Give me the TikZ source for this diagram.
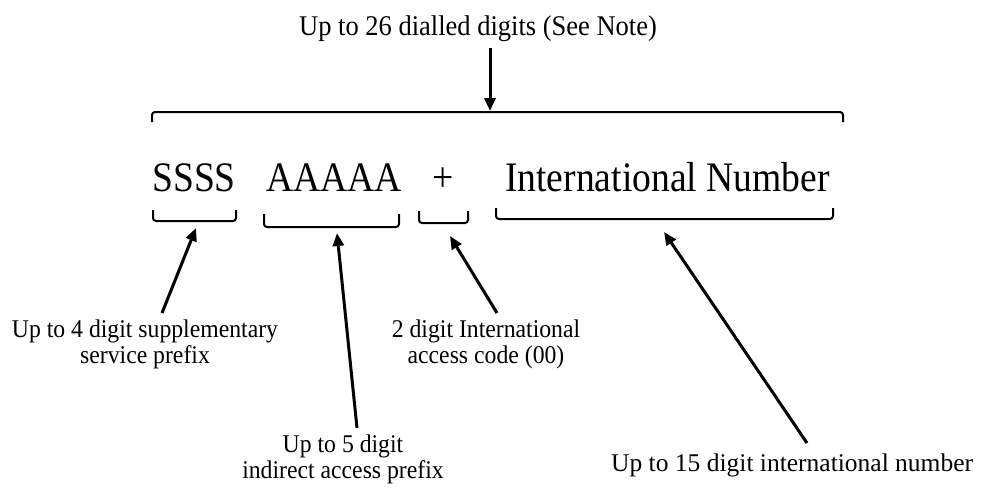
\documentclass[tikz,border=0pt]{standalone}
\usepackage{fontspec}
\setmainfont{Liberation Serif}
\newfontfamily\bigfnt[FakeStretch=0.895]{Liberation Serif}
\newfontfamily\labfnt[FakeStretch=0.93]{Liberation Serif}
\usetikzlibrary{arrows.meta}
\tikzset{
  bigtxt/.style={inner sep=0pt, font=\bigfnt\fontsize{42}{48}\selectfont},
  labtxt/.style={inner sep=0pt, anchor=base, font=\labfnt\fontsize{25.5}{30}\selectfont},
  toptxt/.style={inner sep=0pt, anchor=base, font=\labfnt\fontsize{28.5}{33}\selectfont},
  bracketline/.style={line width=2pt, rounded corners=3pt},
  pointer/.style={line width=3pt, -{Triangle[length=13pt,width=11pt]}, shorten >=0pt}
}
\begin{document}
\begin{tikzpicture}[x=1pt,y=-1pt]
\useasboundingbox (0,0) rectangle (991,488);

% top text and arrow
\node[toptxt] (top) at (478,35) {Up to 26 dialled digits (See Note)};
\coordinate (topT) at (490,48);
\coordinate (topH) at (490,111);
\draw[pointer] (topT) -- (topH);

% top bracket
\draw[bracketline] (152,122) -- (152,112) -- (843,112) -- (843,122);

% main text
\node[bigtxt, anchor=base west] (S) at (152,191) {SSSS};
\node[bigtxt, anchor=base west] (A) at (266,191) {AAAAA};
\node[bigtxt, anchor=base] (P) at (443,191) {+};
\node[bigtxt, anchor=base west] (I) at (505,191) {International Number};

% lower brackets
\draw[bracketline] (153,210) -- (153,221) -- (236,221) -- (236,210);
\draw[bracketline] (264,214) -- (264,227) -- (399,227) -- (399,214);
\draw[bracketline] (419,211) -- (419,223) -- (468,223) -- (468,211);
\draw[bracketline] (496,208) -- (496,219) -- (833,219) -- (833,208);

% labels
\node[labtxt] (l1a) at (145,337) {Up to 4 digit supplementary};
\node[labtxt] (l1b) at (145,363) {service prefix};
\node[labtxt] (l2a) at (486,337) {2 digit International};
\node[labtxt] (l2b) at (486,363) {access code (00)};
\node[labtxt] (l3a) at (343,452) {Up to 5 digit};
\node[labtxt] (l3b) at (343,478) {indirect access prefix};
\node[labtxt, anchor=base west, font=\fontsize{25.5}{30}\selectfont] (l4) at (611,471) {Up to 15 digit international number};

% arrows
\coordinate (sT) at (162,313);
\coordinate (sH) at (196,228);
\coordinate (aT) at (357,428);
\coordinate (aH) at (337,233);
\coordinate (pT) at (497,313);
\coordinate (pH) at (450,236);
\coordinate (iT) at (807,443);
\coordinate (iH) at (664,232);
\draw[pointer] (sT) -- (sH);
\draw[pointer] (aT) -- (aH);
\draw[pointer] (pT) -- (pH);
\draw[pointer] (iT) -- (iH);
\end{tikzpicture}
\end{document}
